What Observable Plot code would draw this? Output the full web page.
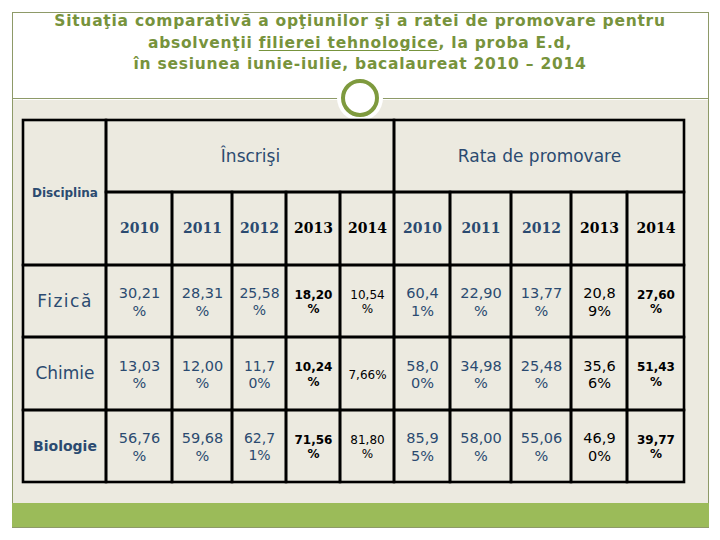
<!DOCTYPE html>
<html><head><meta charset="utf-8">
<script src="https://cdn.jsdelivr.net/npm/d3@7"></script>
<script src="https://cdn.jsdelivr.net/npm/@observablehq/plot@0.6"></script>
<style>
body{margin:0;background:#fff;}
#page{position:relative;width:720px;height:540px;overflow:hidden;font-family:"DejaVu Sans",Verdana,sans-serif;}
#frame{position:absolute;left:12px;top:12px;width:695px;height:514px;border:1px solid #8e9a68;background:#fff;}
#bodybg{position:absolute;left:13px;top:100px;width:695px;height:403px;background:#ECEAE0;}
#sep{position:absolute;left:12px;top:98px;width:696px;height:0;border-top:1.5px solid #8e9a68;}
#halo{position:absolute;left:337px;top:75px;width:46px;height:46px;border-radius:50%;background:#fff;}
#ring{position:absolute;left:341px;top:79px;width:38px;height:38px;box-sizing:border-box;border-radius:50%;border:4.5px solid #7e9a3e;background:#fff;}
#green{position:absolute;left:12px;top:503px;width:697px;height:24px;background:#9BBB59;}
#title{position:absolute;left:12px;top:11px;width:696px;text-align:center;color:#77933C;font-weight:bold;font-size:15.5px;letter-spacing:0.75px;line-height:21.5px;}
#title u{text-decoration-thickness:1px;text-underline-offset:2px;}
#chart{position:absolute;left:0;top:0;}
</style>
</head><body>
<div id="page">
  <div id="frame"></div>
  <div id="bodybg"></div>
  <div id="sep"></div>
  <div id="green"></div>
  <div id="halo"></div>
  <div id="ring"></div>
  <div id="title">Situaţia comparativă a opţiunilor şi a ratei de promovare pentru<br>absolvenţii <u>filierei tehnologice</u>, la proba E.d,<br>în sesiunea iunie-iulie, bacalaureat 2010 – 2014</div>
  <div id="chart"></div>
</div>
<script>
// ---- data ----
const groups = ["Înscrişi", "Rata de promovare"];
const rowHeader = "Disciplina";
const years = ["2010", "2011", "2012", "2013", "2014"];
const disciplines = ["Fizică", "Chimie", "Biologie"];
const inscrisiFizica   = ["30,21\n%", "28,31\n%", "25,58\n%", "18,20\n%", "10,54\n%"];
const inscrisiChimie   = ["13,03\n%", "12,00\n%", "11,7\n0%", "10,24\n%", "7,66%"];
const inscrisiBiologie = ["56,76\n%", "59,68\n%", "62,7\n1%", "71,56\n%", "81,80\n%"];
const rataFizica   = ["60,4\n1%", "22,90\n%", "13,77\n%", "20,8\n9%", "27,60\n%"];
const rataChimie   = ["58,0\n0%", "34,98\n%", "25,48\n%", "35,6\n6%", "51,43\n%"];
const rataBiologie = ["85,9\n5%", "58,00\n%", "55,06\n%", "46,9\n0%", "39,77\n%"];

// ---- layout / style ----
const BLUE = "#2B4A70";
const colEdges = [23, 106, 172, 232, 286, 340, 394, 450, 511, 571, 627, 684];
const rowEdges = [120, 192, 265, 337, 410, 482];
const valueStyles = [
  {fill: BLUE, size: 14.5, weight: "normal", lh: 1.2},
  {fill: BLUE, size: 14.5, weight: "normal", lh: 1.2},
  {fill: BLUE, size: 14, weight: "normal", lh: 1.2},
  {fill: "#000", size: 12, weight: "bold", lh: 1.2},
  {fill: "#000", size: 12, weight: "normal", lh: 1.2},
  {fill: BLUE, size: 14.5, weight: "normal", lh: 1.2},
  {fill: BLUE, size: 14.5, weight: "normal", lh: 1.2},
  {fill: BLUE, size: 14.5, weight: "normal", lh: 1.2},
  {fill: "#000", size: 14.5, weight: "normal", lh: 1.2},
  {fill: "#000", size: 12, weight: "bold", lh: 1.2}
];
const yearFill = [BLUE, BLUE, BLUE, "#000", "#000"];
const discStyles = [
  {size: 17, weight: "normal"},
  {size: 17, weight: "normal"},
  {size: 14, weight: "bold"}
];

const rowsData = [
  inscrisiFizica.concat(rataFizica),
  inscrisiChimie.concat(rataChimie),
  inscrisiBiologie.concat(rataBiologie)
];

// cell rectangles
const rects = [];
rects.push({x1: colEdges[0], x2: colEdges[1], y1: rowEdges[0], y2: rowEdges[2]});
rects.push({x1: colEdges[1], x2: colEdges[6], y1: rowEdges[0], y2: rowEdges[1]});
rects.push({x1: colEdges[6], x2: colEdges[11], y1: rowEdges[0], y2: rowEdges[1]});
for (let c = 1; c <= 10; c++) rects.push({x1: colEdges[c], x2: colEdges[c+1], y1: rowEdges[1], y2: rowEdges[2]});
for (let r = 0; r < 3; r++) for (let c = 0; c <= 10; c++)
  rects.push({x1: colEdges[c], x2: colEdges[c+1], y1: rowEdges[r+2], y2: rowEdges[r+3]});

const cx = c => (colEdges[c] + colEdges[c+1]) / 2;
const cy = r => (rowEdges[r] + rowEdges[r+1]) / 2;

const marks = [];
marks.push(Plot.rect(rects, {x1: "x1", x2: "x2", y1: "y1", y2: "y2", fill: "none", stroke: "#000", strokeWidth: 2.6}));

// group headers
marks.push(Plot.text(groups.map((g, i) => ({t: g, x: i === 0 ? (colEdges[1]+colEdges[6])/2 : (colEdges[6]+colEdges[11])/2, y: cy(0)})),
  {x: "x", y: "y", text: "t", fill: BLUE, fontSize: 17, fontFamily: "DejaVu Sans"}));
marks.push(Plot.text([{t: rowHeader, x: cx(0), y: rowEdges[1] + 1}],
  {x: "x", y: "y", text: "t", fill: BLUE, fontSize: 12, fontWeight: "bold", fontFamily: "DejaVu Sans"}));

// year headers
const yearCells = [];
for (let g = 0; g < 2; g++) years.forEach((yr, i) => yearCells.push({t: yr, x: cx(1 + g*5 + i), y: cy(1), f: yearFill[i]}));
marks.push(Plot.text(yearCells, {x: "x", y: "y", text: "t", fill: "f", fontSize: 14, fontWeight: "bold", fontFamily: "DejaVu Serif"}));

// discipline names
disciplines.forEach((d, r) => {
  marks.push(Plot.text([{t: d, x: cx(0), y: cy(r+2)}],
    {x: "x", y: "y", text: "t", fill: BLUE, fontSize: discStyles[r].size, fontWeight: discStyles[r].weight, fontFamily: "DejaVu Sans"}));
});

// values
for (let c = 0; c < 10; c++) {
  const s = valueStyles[c];
  const cells = rowsData.map((row, r) => ({t: row[c], x: cx(c+1), y: cy(r+2)}));
  marks.push(Plot.text(cells, {x: "x", y: "y", text: "t", fill: s.fill, fontSize: s.size, fontWeight: s.weight, lineHeight: s.lh, fontFamily: "DejaVu Sans"}));
}

const chart = Plot.plot({
  width: 720, height: 540,
  margin: 0,
  x: {domain: [0, 720], range: [0, 720], axis: null},
  y: {domain: [0, 540], range: [0, 540], axis: null},
  color: {type: "identity"},
  style: {background: "transparent", overflow: "visible"},
  marks
});
d3.select(chart).selectAll("text").filter(function() { return this.textContent === "Fizică"; }).attr("letter-spacing", "1.5px");
document.getElementById("chart").appendChild(chart);
</script>
</body></html>
